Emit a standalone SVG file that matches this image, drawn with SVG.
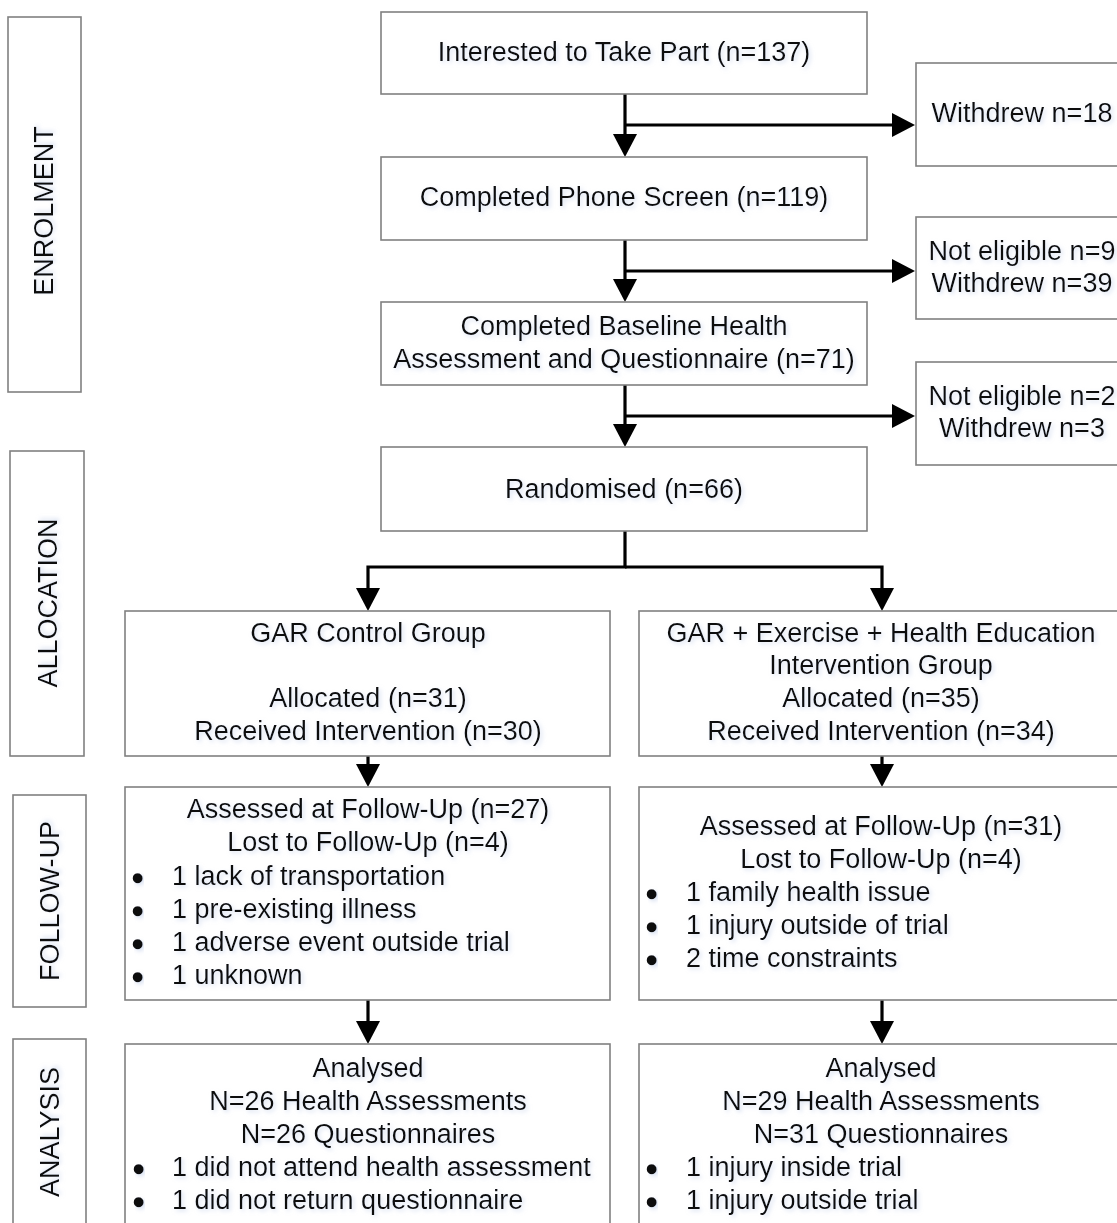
<svg xmlns="http://www.w3.org/2000/svg" width="1117" height="1223" viewBox="0 0 1117 1223">
<style>
.box{fill:#ffffff;stroke:#808080;stroke-width:1.6}
.t{font-family:"Liberation Sans",Arial,sans-serif;font-size:27px;fill:#111111;filter:url(#glow)}
.c{text-anchor:middle}
.b{font-family:"Liberation Sans",Arial,sans-serif;font-size:27px;fill:#111111;stroke:#111111;stroke-width:2.6;filter:url(#glow)}
.conn{fill:none;stroke:#000000;stroke-width:3.2}
</style>
<defs>
<filter id="glow" x="-10%" y="-40%" width="120%" height="180%">
<feGaussianBlur in="SourceAlpha" stdDeviation="2"/>
<feOffset dx="1.5" dy="2" result="b"/>
<feFlood flood-color="#b9c8e6" flood-opacity="0.55"/>
<feComposite in2="b" operator="in" result="s"/>
<feMerge><feMergeNode in="s"/><feMergeNode in="SourceGraphic"/></feMerge>
</filter>
<marker id="ah" markerUnits="userSpaceOnUse" viewBox="0 0 23 24" markerWidth="23" markerHeight="24" refX="13" refY="12" orient="auto">
<path d="M0,0 L23,12 L0,24 z" fill="#000000"/>
</marker>
</defs>
<rect width="1117" height="1223" fill="#ffffff"/>

<g id="stage-enrolment"><rect class="box" x="8" y="17" width="73" height="375"/><text class="t c" transform="translate(53,211) rotate(-90)">ENROLMENT</text></g>
<g id="stage-allocation"><rect class="box" x="10" y="451" width="74" height="305"/><text class="t c" transform="translate(57,603) rotate(-90)">ALLOCATION</text></g>
<g id="stage-followup"><rect class="box" x="13" y="795" width="73" height="212"/><text class="t c" transform="translate(59,901) rotate(-90)">FOLLOW-UP</text></g>
<g id="stage-analysis"><rect class="box" x="13" y="1039" width="73" height="200"/><text class="t c" transform="translate(59,1132) rotate(-90)">ANALYSIS</text></g>

<g id="connectors">
<path class="conn" d="M625,94 V147" marker-end="url(#ah)"/>
<path class="conn" d="M625,125 H905" marker-end="url(#ah)"/>
<path class="conn" d="M625,240 V292" marker-end="url(#ah)"/>
<path class="conn" d="M625,271 H905" marker-end="url(#ah)"/>
<path class="conn" d="M625,385 V437" marker-end="url(#ah)"/>
<path class="conn" d="M625,416 H905" marker-end="url(#ah)"/>
<path class="conn" d="M625,531 V567 H368 V601" marker-end="url(#ah)"/>
<path class="conn" d="M625,567 H882 V601" marker-end="url(#ah)"/>
<path class="conn" d="M368,756 V777" marker-end="url(#ah)"/>
<path class="conn" d="M882,756 V777" marker-end="url(#ah)"/>
<path class="conn" d="M368,1000 V1034" marker-end="url(#ah)"/>
<path class="conn" d="M882,1000 V1034" marker-end="url(#ah)"/>
</g>

<g id="interested"><rect class="box" x="381" y="12" width="486" height="82"/><text class="t c" x="624" y="61">Interested to Take Part (n=137)</text></g>
<g id="withdrew18"><rect class="box" x="916" y="63" width="230" height="103"/><text class="t c" x="1022" y="122">Withdrew n=18</text></g>
<g id="phone"><rect class="box" x="381" y="157" width="486" height="83"/><text class="t c" x="624" y="206">Completed Phone Screen (n=119)</text></g>
<g id="excluded1"><rect class="box" x="916" y="217" width="230" height="102"/><text class="t c" x="1022" y="260">Not eligible n=9</text><text class="t c" x="1022" y="292">Withdrew n=39</text></g>
<g id="baseline"><rect class="box" x="381" y="302" width="486" height="83"/><text class="t c" x="624" y="335">Completed Baseline Health</text><text class="t c" x="624" y="368">Assessment and Questionnaire (n=71)</text></g>
<g id="excluded2"><rect class="box" x="916" y="362" width="230" height="103"/><text class="t c" x="1022" y="405">Not eligible n=2</text><text class="t c" x="1022" y="437">Withdrew n=3</text></g>
<g id="randomised"><rect class="box" x="381" y="447" width="486" height="84"/><text class="t c" x="624" y="498">Randomised (n=66)</text></g>

<g id="control-alloc"><rect class="box" x="125" y="611" width="485" height="145"/>
<text class="t c" x="368" y="642">GAR Control Group</text>
<text class="t c" x="368" y="707">Allocated (n=31)</text>
<text class="t c" x="368" y="740">Received Intervention (n=30)</text></g>
<g id="intervention-alloc"><rect class="box" x="639" y="611" width="500" height="145"/>
<text class="t c" x="881" y="642">GAR + Exercise + Health Education</text>
<text class="t c" x="881" y="674">Intervention Group</text>
<text class="t c" x="881" y="707">Allocated (n=35)</text>
<text class="t c" x="881" y="740">Received Intervention (n=34)</text></g>

<g id="control-followup"><rect class="box" x="125" y="787" width="485" height="213"/>
<text class="t c" x="368" y="818">Assessed at Follow-Up (n=27)</text>
<text class="t c" x="368" y="851">Lost to Follow-Up (n=4)</text>
<text class="b" x="133" y="887">•</text><text class="t" x="172" y="885">1 lack of transportation</text>
<text class="b" x="133" y="920">•</text><text class="t" x="172" y="918">1 pre-existing illness</text>
<text class="b" x="133" y="953">•</text><text class="t" x="172" y="951">1 adverse event outside trial</text>
<text class="b" x="133" y="986">•</text><text class="t" x="172" y="984">1 unknown</text></g>
<g id="intervention-followup"><rect class="box" x="639" y="787" width="500" height="213"/>
<text class="t c" x="881" y="835">Assessed at Follow-Up (n=31)</text>
<text class="t c" x="881" y="868">Lost to Follow-Up (n=4)</text>
<text class="b" x="647" y="903">•</text><text class="t" x="686" y="901">1 family health issue</text>
<text class="b" x="647" y="936">•</text><text class="t" x="686" y="934">1 injury outside of trial</text>
<text class="b" x="647" y="969">•</text><text class="t" x="686" y="967">2 time constraints</text></g>

<g id="control-analysis"><rect class="box" x="125" y="1044" width="485" height="200"/>
<text class="t c" x="368" y="1077">Analysed</text>
<text class="t c" x="368" y="1110">N=26 Health Assessments</text>
<text class="t c" x="368" y="1143">N=26 Questionnaires</text>
<text class="b" x="134" y="1178">•</text><text class="t" x="172" y="1176">1 did not attend health assessment</text>
<text class="b" x="134" y="1211">•</text><text class="t" x="172" y="1209">1 did not return questionnaire</text></g>
<g id="intervention-analysis"><rect class="box" x="639" y="1044" width="500" height="200"/>
<text class="t c" x="881" y="1077">Analysed</text>
<text class="t c" x="881" y="1110">N=29 Health Assessments</text>
<text class="t c" x="881" y="1143">N=31 Questionnaires</text>
<text class="b" x="647" y="1178">•</text><text class="t" x="686" y="1176">1 injury inside trial</text>
<text class="b" x="647" y="1211">•</text><text class="t" x="686" y="1209">1 injury outside trial</text></g>
</svg>
